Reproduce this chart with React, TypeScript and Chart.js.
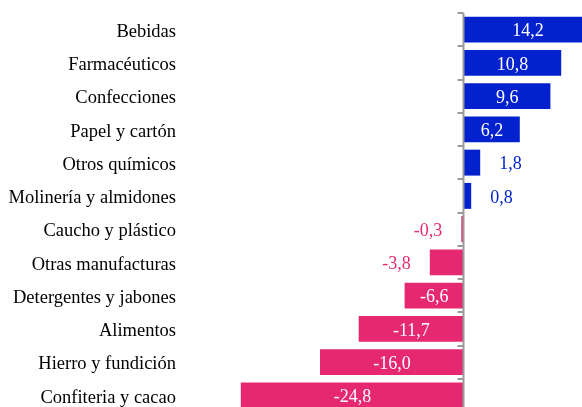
import React, { useEffect, useRef } from "react";
import { Chart, registerables } from "chart.js";

Chart.register(...registerables);

const categories = [
  "Bebidas",
  "Farmacéuticos",
  "Confecciones",
  "Papel y cartón",
  "Otros químicos",
  "Molinería y almidones",
  "Caucho y plástico",
  "Otras manufacturas",
  "Detergentes y jabones",
  "Alimentos",
  "Hierro y fundición",
  "Confiteria y cacao",
];

const values = [14.2, 10.8, 9.6, 6.2, 1.8, 0.8, -0.3, -3.8, -6.6, -11.7, -16.0, -24.8];

const BLUE = "#0322CD";
const PINK = "#E52870";
const FONT = "'Liberation Serif', 'Times New Roman', serif";

const fmt = (v: number) => v.toFixed(1).replace(".", ",");

const axisPlugin = {
  id: "zeroAxis",
  afterDatasetsDraw(chart: any) {
    const { ctx, chartArea, scales } = chart;
    const x0 = Math.round(scales.x.getPixelForValue(0)) - 0.5;
    const yScale = scales.y;
    ctx.save();
    ctx.strokeStyle = "#9a9a9a";
    ctx.lineWidth = 2;
    ctx.beginPath();
    ctx.moveTo(x0, chartArea.top);
    ctx.lineTo(x0, chartArea.bottom);
    ctx.stroke();
    const n = categories.length;
    for (let i = 0; i <= n; i++) {
      const y = Math.round(yScale.getPixelForValue(i - 0.5));
      ctx.beginPath();
      ctx.moveTo(x0 - 6, y);
      ctx.lineTo(x0, y);
      ctx.stroke();
    }

    // value labels
    const meta = chart.getDatasetMeta(0);
    ctx.font = `18px ${FONT}`;
    ctx.textBaseline = "middle";
    meta.data.forEach((bar: any, i: number) => {
      const v = values[i];
      const y = bar.y + 2;
      const end = scales.x.getPixelForValue(v);
      const zero = scales.x.getPixelForValue(0);
      if (Math.abs(v) >= 5) {
        ctx.fillStyle = "#ffffff";
        ctx.textAlign = "center";
        ctx.fillText(fmt(v), (end + zero) / 2, y);
      } else if (v >= 0) {
        ctx.fillStyle = BLUE;
        ctx.textAlign = "left";
        ctx.fillText(fmt(v), end + 19, y);
      } else {
        ctx.fillStyle = PINK;
        ctx.textAlign = "right";
        ctx.fillText(fmt(v), end - 19, y);
      }
    });
    ctx.restore();
  },
};

export default function App() {
  const ref = useRef<HTMLCanvasElement | null>(null);

  useEffect(() => {
    if (!ref.current) return;
    const chart = new Chart(ref.current, {
      type: "bar",
      data: {
        labels: categories,
        datasets: [
          {
            data: values,
            backgroundColor: values.map((v) => (v >= 0 ? BLUE : PINK)),
            borderWidth: 0,
            barPercentage: 0.78,
            categoryPercentage: 1,
          },
        ],
      },
      options: {
        indexAxis: "y",
        animation: false,
        responsive: false,
        layout: { padding: { top: 13, left: 0, right: 0, bottom: 0 } },
        plugins: { legend: { display: false }, tooltip: { enabled: false } },
        scales: {
          x: {
            display: false,
            min: -31.333,
            max: 13.111,
          },
          y: {
            grid: { display: false, drawTicks: false },
            border: { display: false },
            ticks: {
              color: "#000000",
              padding: 6,
              labelOffset: 2.5,
              font: { family: FONT, size: 18.5 },
            },
            afterFit(scale: any) {
              scale.width = 182;
              scale.paddingTop = 0;
              scale.paddingBottom = 0;
            },
          },
        },
      },
      plugins: [axisPlugin],
    });
    return () => chart.destroy();
  }, []);

  return (
    <div
      style={{
        position: "fixed",
        left: 0,
        top: 0,
        width: 582,
        height: 407,
        overflow: "hidden",
        background: "#fff",
      }}
    >
      <canvas ref={ref} width={582} height={412} style={{ display: "block" }} />
    </div>
  );
}
